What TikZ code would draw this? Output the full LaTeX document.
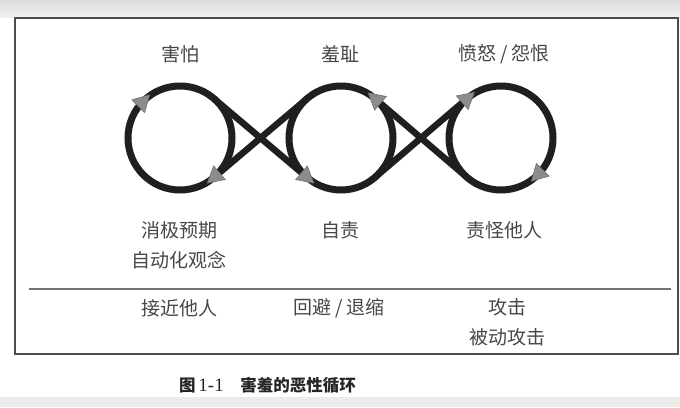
\documentclass[tikz,border=0pt]{standalone}
\usepackage{fontspec}
\setmainfont{Liberation Serif}
\newfontfamily\cjk{Noto Sans CJK SC}
\begin{document}
\begin{tikzpicture}[x=1pt,y=1pt,
  loopc/.style={circle, draw=black!88, line width=7pt, minimum size=104pt, inner sep=0pt, outer sep=0pt},
  link/.style={draw=black!88, line width=6.5pt},
  lbl/.style={font=\cjk\fontsize{19}{30}\selectfont, text=black!72, align=center, inner sep=0pt},
  frame/.style={draw=black!70, line width=2pt},
  rule/.style={draw=black!55, line width=1.5pt},
  tri/.pic={\filldraw[fill=black!45, draw=black!55, line width=0.6pt] (9,0) -- (-7,9) -- (-7,-9) -- cycle;}
]
\useasboundingbox (0,0) rectangle (680,407);
\fill[white] (0,0) rectangle (680,407);
\shade[top color=black!14, bottom color=black!5] (0,389) rectangle (680,407);
\fill[black!8] (0,0) rectangle (680,10);

% frame and rule
\path[frame] (15,53) rectangle (678,389);
\coordinate (rl) at (29,118);
\coordinate (rr) at (671,118);
\path[rule] (rl) -- (rr);

% loops
\node[loopc] (L) at (180,269) {};
\node[loopc] (M) at (341,269) {};
\node[loopc] (R) at (501,269) {};

% crossing links
\path[link] (L.49.8) -- (M.229.8);
\path[link] (M.130.2) -- (L.-49.8);
\path[link] (R.229.5) -- (M.49.5);
\path[link] (M.-49.5) -- (R.130.5);

% arrow heads
\pic[rotate=45] at (L.135) {tri};
\pic[rotate=220.2] at (L.-49.8) {tri};
\pic[rotate=-40.2] at (M.229.8) {tri};
\pic[rotate=139.5] at (M.49.5) {tri};
\pic[rotate=40.5] at (R.130.5) {tri};
\pic[rotate=225] at (R.-45) {tri};

% labels
\node[lbl] (t1) at (180,353) {害怕};
\node[lbl] (t2) at (340,353) {羞耻};
\node[lbl] (t3) at (504,353) {愤怒 / 怨恨};
\node[lbl] (b1) at (179,162) {消极预期\\自动化观念};
\node[lbl] (b2) at (340,177) {自责};
\node[lbl] (b3) at (504,177) {责怪他人};
\node[lbl] (c1) at (179,99) {接近他人};
\node[lbl] (c2) at (339,99) {回避 / 退缩};
\node[lbl] (c3) at (507,84.5) {攻击\\被动攻击};

% caption
\node[font=\cjk\bfseries\fontsize{16.5}{20}\selectfont, text=black!85, anchor=west, inner sep=0pt] (cap) at (179,22) {图\,{\rmfamily\mdseries\fontsize{19}{20}\selectfont 1-1}\quad 害羞的恶性循环};
\end{tikzpicture}
\end{document}
